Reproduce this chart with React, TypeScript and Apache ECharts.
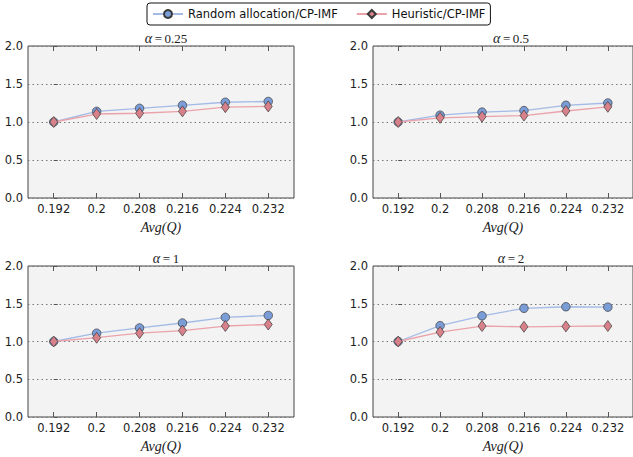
import React, { useEffect, useRef } from "react";
import * as echarts from "echarts";

const xLabels = ["0.192", "0.2", "0.208", "0.216", "0.224", "0.232"];
const alphas = ["0.25", "0.5", "1", "2"];
const seriesNames = ["Random allocation/CP-IMF", "Heuristic/CP-IMF"];

const randomA025 = [1.0, 1.14, 1.18, 1.22, 1.26, 1.27];
const heurA025 = [1.0, 1.105, 1.115, 1.14, 1.195, 1.205];
const randomA05 = [1.0, 1.09, 1.13, 1.15, 1.22, 1.25];
const heurA05 = [1.0, 1.055, 1.07, 1.085, 1.145, 1.2];
const randomA1 = [1.0, 1.11, 1.18, 1.245, 1.32, 1.345];
const heurA1 = [1.0, 1.05, 1.11, 1.145, 1.205, 1.225];
const randomA2 = [1.0, 1.21, 1.34, 1.44, 1.46, 1.455];
const heurA2 = [1.0, 1.125, 1.205, 1.195, 1.2, 1.205];

const randomAll = [randomA025, randomA05, randomA1, randomA2];
const heurAll = [heurA025, heurA05, heurA1, heurA2];

const grids = [
  { left: 28, top: 46, width: 266, height: 152 },
  { left: 373, top: 46, width: 266, height: 152 },
  { left: 28, top: 266, width: 266, height: 151 },
  { left: 373, top: 266, width: 266, height: 151 },
];

const BLUE_LINE = "#a3bbe6";
const BLUE_FILL = "#7a9dd8";
const PINK_LINE = "#eba3aa";
const PINK_FILL = "#d9818a";
const EDGE = "#3a3a3a";

export default function App() {
  const ref = useRef<HTMLDivElement>(null);
  useEffect(() => {
    if (!ref.current) return;
    const chart = echarts.init(ref.current, undefined, { renderer: "svg" });
    const idx = xLabels.map((_, i) => i);
    const xAxes: any[] = [];
    const yAxes: any[] = [];
    const series: any[] = [];
    const titles: any[] = [];
    grids.forEach((g, gi) => {
      xAxes.push({
        type: "value",
        gridIndex: gi,
        min: -0.6,
        max: 5.6,
        position: "bottom",
        axisLine: { show: false },
        splitLine: { show: false },
        axisTick: { show: true, inside: true, length: 5, customValues: idx, lineStyle: { color: "#555" } },
        axisLabel: {
          show: true,
          customValues: idx,
          margin: 5,
          formatter: (v: number) => xLabels[Math.round(v)] ?? "",
          color: "#222",
          fontFamily: "DejaVu Sans",
          fontSize: 11.5,
        },
        name: "Avg(Q)",
        nameLocation: "middle",
        nameGap: 22,
        nameTextStyle: { fontFamily: "Liberation Serif", fontStyle: "italic", fontSize: 14, color: "#222", verticalAlign: "top" },
      });
      xAxes.push({
        type: "value",
        gridIndex: gi,
        min: -0.6,
        max: 5.6,
        position: "top",
        axisLine: { show: false },
        splitLine: { show: false },
        axisTick: { show: true, inside: true, length: 5, customValues: idx, lineStyle: { color: "#555" } },
        axisLabel: { show: false },
      });
      yAxes.push({
        type: "value",
        gridIndex: gi,
        min: 0,
        max: 2,
        interval: 0.5,
        axisLine: { show: false },
        axisTick: { show: true, inside: true, length: 4, lineStyle: { color: "#555" } },
        axisLabel: {
          formatter: (v: number) => v.toFixed(1),
          margin: 5,
          color: "#222",
          fontFamily: "DejaVu Sans",
          fontSize: 11.5,
        },
        splitLine: { show: true, lineStyle: { type: [1.5, 3], color: "#777", width: 1 } },
      });
      series.push({
        name: seriesNames[0],
        type: "line",
        xAxisIndex: gi * 2,
        yAxisIndex: gi,
        data: randomAll[gi].map((v, i) => [i, v]),
        symbol: "circle",
        symbolSize: 8.5,
        lineStyle: { color: BLUE_LINE, width: 1.3 },
        itemStyle: { color: BLUE_FILL, borderColor: EDGE, borderWidth: 0.7 },
        z: 2,
      });
      series.push({
        name: seriesNames[1],
        type: "line",
        xAxisIndex: gi * 2,
        yAxisIndex: gi,
        data: heurAll[gi].map((v, i) => [i, v]),
        symbol: "diamond",
        symbolSize: [8, 11],
        lineStyle: { color: PINK_LINE, width: 1.3 },
        itemStyle: { color: PINK_FILL, borderColor: EDGE, borderWidth: 0.7 },
        z: 3,
      });
      titles.push({
        text: `{a|α}{b|\u2009=\u2009${alphas[gi]}}`,
        left: g.left + g.width / 2,
        top: g.top - 20,
        textAlign: "center",
        textStyle: {
          fontWeight: "normal",
          rich: {
            a: { fontFamily: "Liberation Serif", fontStyle: "italic", fontWeight: "normal", fontSize: 14, color: "#222" },
            b: { fontFamily: "Liberation Serif", fontWeight: "normal", fontSize: 13, color: "#222" },
          },
        },
      });
    });
    chart.setOption({
      animation: false,
      backgroundColor: "#fff",
      title: titles,
      legend: {
        left: 147,
        top: 3,
        data: seriesNames,
        padding: [5, 5, 5, 5],
        borderColor: "#111",
        borderWidth: 1,
        borderRadius: 3,
        itemWidth: 30,
        itemHeight: 10,
        itemGap: 18,
        textStyle: { fontFamily: "DejaVu Sans", fontSize: 11.5, color: "#111" },
      },
      grid: grids.map((g) => ({
        ...g,
        show: true,
        backgroundColor: "#f3f3f3",
        borderColor: "#444",
        borderWidth: 1,
        containLabel: false,
      })),
      xAxis: xAxes,
      yAxis: yAxes,
      series,
    });
    return () => chart.dispose();
  }, []);
  return <div ref={ref} style={{ position: "fixed", left: 0, top: 0, width: 633, height: 457 }} />;
}
